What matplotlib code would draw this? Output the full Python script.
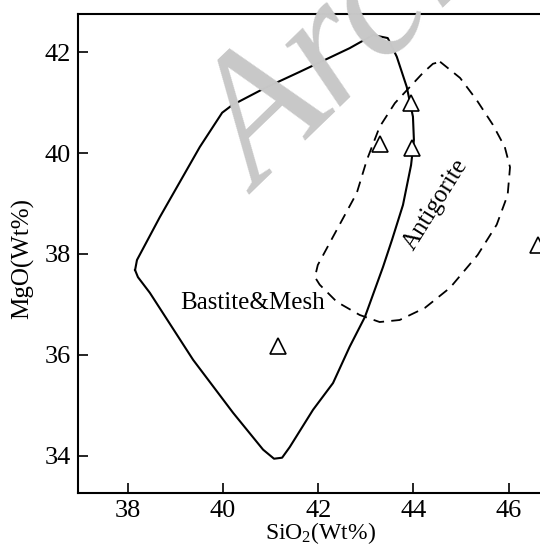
import matplotlib
matplotlib.use("Agg")
import matplotlib.pyplot as plt

plt.rcParams['font.family'] = ['Liberation Serif', 'DejaVu Serif']
plt.rcParams['mathtext.fontset'] = 'custom'
plt.rcParams['mathtext.rm'] = 'Liberation Serif'
plt.rcParams['mathtext.it'] = 'Liberation Serif:italic'

# Bastite & Mesh field (solid outline)
bastite_sio2 = [38.15, 38.19, 38.67, 39.51, 39.98, 40.19, 40.88, 41.61, 42.66,
                43.15, 43.46, 43.65, 43.86, 43.99, 44.01, 43.95, 43.78, 43.55,
                43.36, 42.98, 42.66, 42.31, 41.89, 41.40, 41.24, 41.07, 40.84,
                40.21, 39.37, 38.46, 38.21, 38.15]
bastite_mgo = [37.68, 37.88, 38.73, 40.12, 40.80, 40.95, 41.29, 41.61, 42.08,
               42.34, 42.28, 41.91, 41.31, 40.72, 40.26, 39.76, 38.97, 38.28,
               37.74, 36.75, 36.16, 35.44, 34.91, 34.17, 33.96, 33.94, 34.12,
               34.85, 35.90, 37.23, 37.54, 37.68]

# Antigorite field (dashed outline)
antig_sio2 = [44.56, 44.98, 45.33, 45.67, 45.92, 46.03, 45.98, 45.75, 45.35,
              44.77, 44.24, 43.71, 43.29, 42.87, 42.39, 42.03, 41.93, 41.99,
              42.31, 42.81, 43.02, 43.29, 43.61, 44.20, 44.41, 44.56]
antig_mgo = [41.81, 41.49, 41.05, 40.56, 40.12, 39.72, 39.17, 38.58, 37.98,
             37.33, 36.93, 36.69, 36.65, 36.79, 37.05, 37.39, 37.54, 37.78,
             38.34, 39.21, 39.86, 40.52, 40.99, 41.59, 41.77, 41.81]

# samples
sample_sio2 = [41.15, 43.29, 43.96, 43.94, 46.62]
sample_mgo = [36.18, 40.18, 40.10, 41.00, 38.18]

x_ticks = [38, 40, 42, 44, 46]
y_ticks = [34, 36, 38, 40, 42]

fig = plt.figure(figsize=(5.4, 5.47), dpi=100)
ax = fig.add_axes([0.1444, 0.0987, 0.8556, 0.8757])

# watermark
fig.text(0.48, 0.645, 'Archive', fontsize=130, color='#c8c8c8', rotation=44,
         style='italic', rotation_mode='anchor', ha='left', va='baseline',
         zorder=0)

ax.plot(bastite_sio2, bastite_mgo, color='black', lw=1.5)
ax.plot(antig_sio2, antig_mgo, color='black', lw=1.3, dashes=(6, 4))
ax.plot(sample_sio2, sample_mgo, linestyle='none', marker='^', ms=11,
        mfc='white', mec='black', mew=1.2, clip_on=False, zorder=5)

ax.text(40.61, 37.02, 'Bastite&Mesh', fontsize=18, ha='center', va='center')
ax.text(44.47, 38.97, 'Antigorite', fontsize=18, ha='center', va='center',
        rotation=58)

ax.set_xlim(36.95, 46.66)
ax.set_ylim(33.26, 42.757)
ax.set_xticks(x_ticks)
ax.set_yticks(y_ticks)
ax.tick_params(direction='in', length=7, width=1.2, labelsize=19, pad=5)
ax.spines['right'].set_visible(False)
for s in ['left', 'bottom', 'top']:
    ax.spines[s].set_linewidth(1.5)
ax.patch.set_alpha(0)

ax.set_xlabel('SiO$_2$(Wt%)', fontsize=17, labelpad=0)
ax.set_ylabel('MgO(Wt%)', fontsize=18, labelpad=4)
ax.xaxis.set_label_coords(0.525, -0.056)
ax.yaxis.set_label_coords(-0.094, 0.49)

fig.savefig('out.png', dpi=100)
